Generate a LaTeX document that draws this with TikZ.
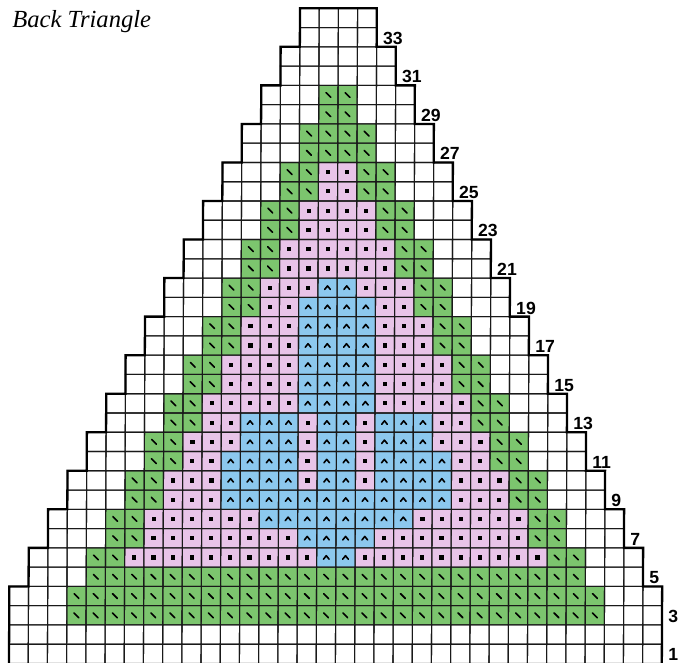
\documentclass[tikz,border=0pt]{standalone}
\usepackage{fontspec}
\newfontfamily\labfont{Liberation Sans}
\newfontfamily\titlefont{Liberation Serif}
\definecolor{kgreen}{RGB}{124,197,110}
\definecolor{kpink}{RGB}{232,196,232}
\definecolor{kblue}{RGB}{140,200,238}
\tikzset{
  gridline/.style={draw=black!90, line width=0.55pt},
  outline/.style={draw=black, line width=1.15pt, line join=miter},
  rowlabel/.style={font=\labfont\bfseries\fontsize{8.8}{10}\selectfont, anchor=west, inner sep=0pt},
  titletext/.style={font=\titlefont\itshape\fontsize{12.3}{14}\selectfont, anchor=base west, inner sep=0pt},
  symline/.style={line width=0.8pt, line cap=round, line join=round},
  gcell/.pic={\fill[kgreen] (-9.6,-9.64) rectangle (9.6,9.64);
              \draw[symline] (-2.4,-2.4) -- (2.4,2.4);},
  pcell/.pic={\fill[kpink] (-9.6,-9.64) rectangle (9.6,9.64);
              \fill[black] (-2.1,-2.1) rectangle (2.1,2.1);},
  bcell/.pic={\fill[kblue] (-9.6,-9.64) rectangle (9.6,9.64);
              \draw[symline] (-2.8,1.7) -- (0,-1.8) -- (2.8,1.7);}
}
\begin{document}
\begin{tikzpicture}[x=0.5pt,y=-0.5pt]
\useasboundingbox (0,0) rectangle (678,662);
\clip (0,0) rectangle (678,662);
\fill[white] (0,0) rectangle (678,662);

\begin{scope}[cm={1,0,0.00458,1,(1.52pt,0pt)}]
% green cells
\foreach \r/\a/\b in {3/4/31, 4/4/31, 5/5/30,
  6/5/6, 6/29/30, 7/6/7, 7/28/29, 8/6/7, 8/28/29,
  9/7/8, 9/27/28, 10/7/8, 10/27/28, 11/8/9, 11/26/27, 12/8/9, 12/26/27,
  13/9/10, 13/25/26, 14/9/10, 14/25/26, 15/10/11, 15/24/25, 16/10/11, 16/24/25,
  17/11/12, 17/23/24, 18/11/12, 18/23/24, 19/12/13, 19/22/23, 20/12/13, 20/22/23,
  21/13/14, 21/21/22, 22/13/14, 22/21/22, 23/14/15, 23/20/21, 24/14/15, 24/20/21,
  25/15/16, 25/19/20, 26/15/16, 26/19/20, 27/16/19, 28/16/19, 29/17/18, 30/17/18}
  {\foreach \c in {\a,...,\b}{\pic at ({9+(\c-0.5)*19.2},{8.3+(34.5-\r)*19.27}) {gcell};}}

% pink cells
\foreach \r/\a/\b in {6/7/16, 6/19/28, 7/8/15, 7/20/27, 8/8/13, 8/22/27,
  9/9/11, 9/24/26, 10/9/11, 10/16/16, 10/19/19, 10/24/26,
  11/10/11, 11/16/16, 11/19/19, 11/24/25, 12/10/12, 12/16/16, 12/19/19, 12/23/25,
  13/11/12, 13/16/16, 13/19/19, 13/23/24, 14/11/15, 14/20/24,
  15/12/15, 15/20/23, 16/12/15, 16/20/23, 17/13/15, 17/20/22, 18/13/15, 18/20/22,
  19/14/15, 19/20/21, 20/14/16, 20/19/21, 21/15/20, 22/15/20,
  23/16/19, 24/16/19, 25/17/18, 26/17/18}
  {\foreach \c in {\a,...,\b}{\pic at ({9+(\c-0.5)*19.2},{8.3+(34.5-\r)*19.27}) {pcell};}}

% blue cells
\foreach \r/\a/\b in {6/17/18, 7/16/19, 8/14/21, 9/12/23,
  10/12/15, 10/17/18, 10/20/23, 11/12/15, 11/17/18, 11/20/23,
  12/13/15, 12/17/18, 12/20/22, 13/13/15, 13/17/18, 13/20/22,
  14/16/19, 15/16/19, 16/16/19, 17/16/19, 18/16/19, 19/16/19, 20/17/18}
  {\foreach \c in {\a,...,\b}{\pic at ({9+(\c-0.5)*19.2},{8.3+(34.5-\r)*19.27}) {bcell};}}

% grid
\foreach \r in {1,...,34}{
  \pgfmathtruncatemacro\jj{int((\r+1)/2)}
  \pgfmathtruncatemacro\ca{max(1,\jj-1)}
  \pgfmathtruncatemacro\cb{min(34,36-\jj)}
  \foreach \c in {\ca,...,\cb}{
    \draw[gridline] ({9+(\c-1)*19.2},{8.3+(34-\r)*19.27}) rectangle ++(19.2,19.27);
  }
}

% outline
\draw[outline] (9,{8.3+34*19.27}) -- (9,{8.3+30*19.27})
  \foreach \j in {3,...,17}{ -- ({9+(\j-2)*19.2},{8.3+(36-2*\j)*19.27}) -- ({9+(\j-2)*19.2},{8.3+(34-2*\j)*19.27}) }
  -- ({9+19*19.2},8.3)
  \foreach \j in {17,16,...,3}{ -- ({9+(36-\j)*19.2},{8.3+(34-2*\j)*19.27}) -- ({9+(36-\j)*19.2},{8.3+(36-2*\j)*19.27}) }
  -- ({9+34*19.2},{8.3+30*19.27}) -- ({9+34*19.2},{8.3+34*19.27});

% row labels
\foreach \r in {1,3,...,33}{
  \pgfmathtruncatemacro\jj{int((\r+1)/2)}
  \pgfmathtruncatemacro\cb{min(34,36-\jj)}
  \node[rowlabel] (lab\r) at ({9+\cb*19.2+6},{8.3+(34.5-\r)*19.27+1}) {\r};
}
\end{scope}

\node[titletext] (title) at (12,28) {Back Triangle};
\end{tikzpicture}
\end{document}
